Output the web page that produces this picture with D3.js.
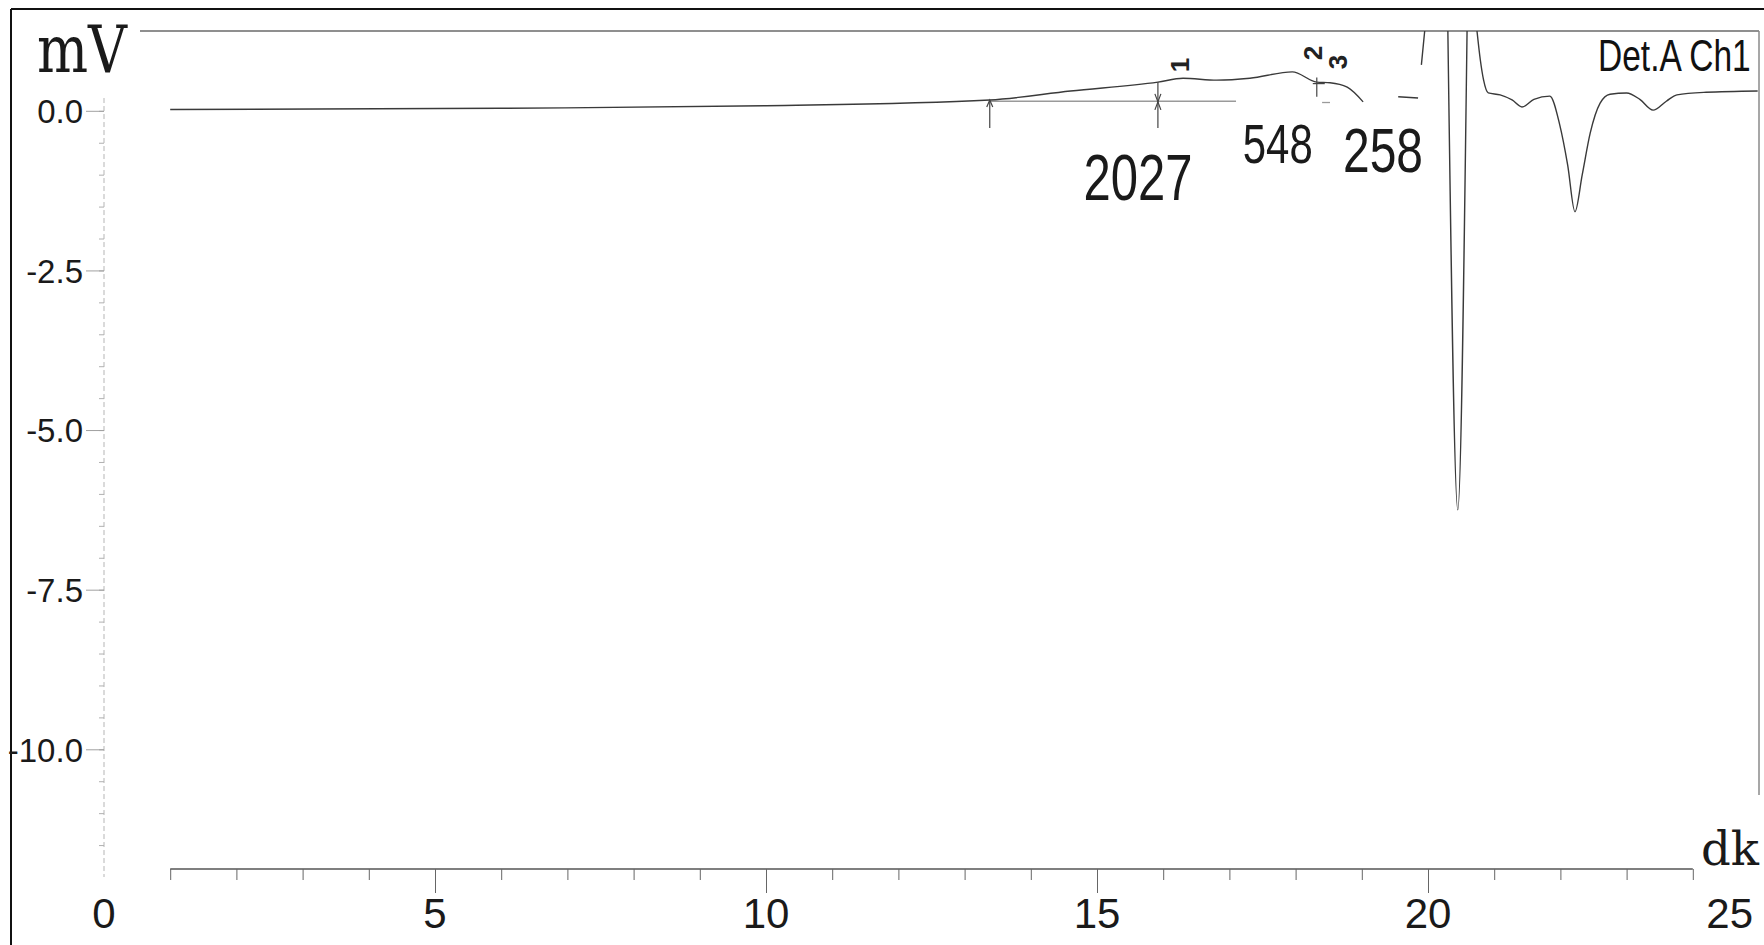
<!DOCTYPE html>
<html>
<head>
<meta charset="utf-8">
<script src="https://cdn.jsdelivr.net/npm/d3@7"></script>
<style>
  html, body { margin: 0; padding: 0; background: #fff; }
  svg { display: block; }
</style>
</head>
<body>
<svg id="chart" width="1764" height="945"></svg>
<script>
// ---------------- data ----------------
const traceX = [1.0, 6.0, 10.0, 13.38, 14.6, 15.92, 16.30, 16.81, 17.31, 17.95, 18.32, 18.52, 18.78, 19.02,
  19.05, 19.55, 19.85, 19.87, 19.90, 19.95, 19.97, 20.30, 20.45, 20.59, 20.61,
  20.74, 20.79, 20.84, 20.91, 21.09, 21.27, 21.42, 21.60, 21.84, 21.99, 22.11, 22.22, 22.33, 22.45,
  22.60, 22.75, 23.0, 23.2, 23.40, 23.6, 23.76, 24.2, 24.98];
const traceY = [0.02, 0.04, 0.08, 0.17, 0.31, 0.45, 0.51, 0.48, 0.51, 0.61, 0.45, 0.44, 0.37, 0.14,
  null, 0.22, 0.20, null, 0.72, 1.25, null, 1.25, -6.25, 1.25, null,
  1.25, 0.80, 0.48, 0.28, 0.25, 0.17, 0.06, 0.18, 0.23, -0.22, -0.85, -1.58, -1.0, -0.35,
  0.12, 0.26, 0.28, 0.18, 0.01, 0.15, 0.25, 0.29, 0.31];

const baselineStart = [13.38, 18.40];
const baselineEnd   = [17.10, 18.52];
const baselineLevel = [0.15, 0.13];

const peakNames  = ["1", "2", "3"];
const markerX    = [13.38, 15.92, 18.32];
const markerHigh = [0.17, 0.45, 0.52];
const markerLow  = [-0.27, -0.27, 0.22];

const areaLabels = ["2027", "548", "258"];

const yTickValues = [0, -2.5, -5, -7.5, -10];
const yTickLabels = ["0.0", "-2.5", "-5.0", "-7.5", "-10.0"];
const xTickValues = [0, 5, 10, 15, 20, 25];
const xTickLabels = ["0", "5", "10", "15", "20", "25"];

// ---------------- layout ----------------
const svg = d3.select("#chart");
const x = d3.scaleLinear().domain([0, 25]).range([104, 1759]);
const y = d3.scaleLinear().domain([-12, 1.25]).range([877, 31]);
const xAxisY = 869;
const traceColor = "#3a3a3a";

// outer scan frame (top + left)
svg.append("line").attr("x1", 11).attr("y1", 9).attr("x2", 1764).attr("y2", 9)
  .attr("stroke", "#111").attr("stroke-width", 2);
svg.append("line").attr("x1", 11).attr("y1", 9).attr("x2", 11).attr("y2", 945)
  .attr("stroke", "#111").attr("stroke-width", 2);

// plot frame (top + right)
svg.append("line").attr("x1", 140).attr("y1", y(1.25)).attr("x2", x(25)).attr("y2", y(1.25))
  .attr("stroke", "#6a6a6a").attr("stroke-width", 1.5);
svg.append("line").attr("x1", x(25)).attr("y1", y(1.25)).attr("x2", x(25)).attr("y2", 795)
  .attr("stroke", "#8a8a8a").attr("stroke-width", 1.5);

// y axis
svg.append("line").attr("x1", x(0)).attr("x2", x(0)).attr("y1", y(0.2)).attr("y2", y(-12))
  .attr("stroke", "#b5b5b5").attr("stroke-width", 1).attr("stroke-dasharray", "5 3");
const yMinor = svg.append("g").attr("transform", `translate(${x(0)},0)`)
  .call(d3.axisLeft(y).tickValues(d3.range(-23, 1).map(v => v / 2)).tickSize(5).tickFormat(""));
yMinor.select(".domain").remove();
yMinor.selectAll("line").attr("stroke", "#b0b0b0");
const yMajor = svg.append("g").attr("transform", `translate(${x(0)},0)`)
  .call(d3.axisLeft(y).tickValues(yTickValues).tickSize(18).tickPadding(3)
    .tickFormat((d, i) => yTickLabels[i]));
yMajor.select(".domain").remove();
yMajor.selectAll("line").attr("stroke", "#a0a0a0");
yMajor.selectAll("text").attr("font-family", "'Liberation Sans', Arial, sans-serif")
  .attr("font-size", 33).attr("fill", "#1a1a1a").attr("dy", "0.36em");

// x axis
svg.append("line").attr("x1", x(1)).attr("x2", x(24)).attr("y1", xAxisY).attr("y2", xAxisY)
  .attr("stroke", "#555").attr("stroke-width", 1.3);
const xMinor = svg.append("g").attr("transform", `translate(0,${xAxisY})`)
  .call(d3.axisBottom(x).tickValues(d3.range(1, 25)).tickSize(11).tickFormat(""));
xMinor.select(".domain").remove();
xMinor.selectAll("line").attr("stroke", "#666");
const xMajor = svg.append("g").attr("transform", `translate(0,${xAxisY})`)
  .call(d3.axisBottom(x).tickValues([5, 10, 15, 20]).tickSize(24).tickFormat(""));
xMajor.select(".domain").remove();
xMajor.selectAll("line").attr("stroke", "#666");
svg.append("g").selectAll("text").data(xTickValues).join("text")
  .attr("x", d => x(d))
  .attr("dx", (d, i) => i === xTickValues.length - 1 ? -6 : 0)
  .attr("y", 928)
  .attr("text-anchor", (d, i) => i === xTickValues.length - 1 ? "end" : "middle")
  .attr("font-family", "'Liberation Sans Narrow', 'Liberation Sans', Arial, sans-serif")
  .attr("font-size", 42).attr("fill", "#1a1a1a")
  .text((d, i) => xTickLabels[i]);

// axis titles
svg.append("text").attr("x", 37).attr("y", 72)
  .attr("font-family", "'DejaVu Serif', serif").attr("font-size", 66)
  .attr("textLength", 90).attr("lengthAdjust", "spacingAndGlyphs")
  .attr("fill", "#1a1a1a").text("mV");
svg.append("text").attr("x", 1701).attr("y", 865)
  .attr("font-family", "'DejaVu Serif', serif").attr("font-size", 47)
  .attr("textLength", 58).attr("lengthAdjust", "spacingAndGlyphs")
  .attr("fill", "#1a1a1a").text("dk");

// channel label (condensed horizontally like the original print)
svg.append("text").attr("transform", "translate(1598,71) scale(0.745,1)")
  .attr("font-family", "'Liberation Sans', Arial, sans-serif")
  .attr("font-size", 45)
  .attr("fill", "#111").text("Det.A Ch1");

// integration baselines
svg.append("g").selectAll("line").data(baselineStart).join("line")
  .attr("x1", d => x(d))
  .attr("x2", (d, i) => x(baselineEnd[i]))
  .attr("y1", (d, i) => y(baselineLevel[i]))
  .attr("y2", (d, i) => y(baselineLevel[i]))
  .attr("stroke", "#9a9a9a").attr("stroke-width", 1.3);

// trace
const pts = traceX.map((v, i) => [v, traceY[i]]);
const line = d3.line()
  .defined(d => d[1] !== null)
  .x(d => x(d[0])).y(d => y(d[1]))
  .curve(d3.curveMonotoneX);
svg.append("path").datum(pts).attr("d", line)
  .attr("fill", "none").attr("stroke", traceColor).attr("stroke-width", 1.4);

// peak markers
const mk = svg.append("g").attr("stroke", "#444").attr("stroke-width", 1.2).attr("fill", "none");
markerX.forEach((mx, i) => {
  const px = x(mx), top = y(markerHigh[i]), bot = y(markerLow[i]);
  mk.append("line").attr("x1", px).attr("x2", px).attr("y1", top).attr("y2", bot);
  if (i === 0) {
    mk.append("path").attr("d", `M${px - 3},${top + 7}L${px},${top}L${px + 3},${top + 7}`);
  } else if (i === 1) {
    const b = y(0.14);
    mk.append("path").attr("d", `M${px - 3},${b - 8}L${px},${b}L${px + 3},${b - 8}`);
    mk.append("path").attr("d", `M${px - 3},${b + 8}L${px},${b}L${px + 3},${b + 8}`);
  } else {
    mk.append("line").attr("x1", px - 4).attr("x2", px + 8).attr("y1", top + 6).attr("y2", top + 6);
  }
});

// peak numbers (rotated)
const nameMarker = [1, 2, 2];
const nameOffset = [22, -4, 21];
const nameY = [65, 53, 62];
svg.append("g").selectAll("text").data(peakNames).join("text")
  .attr("transform", (d, i) => `translate(${x(markerX[nameMarker[i]]) + nameOffset[i]},${nameY[i]}) rotate(-90)`)
  .attr("text-anchor", "middle").attr("dy", "0.35em")
  .attr("font-family", "'Liberation Sans', Arial, sans-serif")
  .attr("font-size", 26).attr("font-weight", "bold").attr("fill", "#222")
  .text(d => d);

// area labels
const areaCX = [15.62, 17.73, 19.32];
const areaBase = [200, 163, 172];
const areaSize = [65, 56, 63];
const areaW = [109, 70, 80];
svg.append("g").selectAll("text").data(areaLabels).join("text")
  .attr("x", (d, i) => x(areaCX[i]) - areaW[i] / 2)
  .attr("y", (d, i) => areaBase[i])
  .attr("font-family", "'Liberation Sans Narrow', 'Liberation Sans', Arial, sans-serif")
  .attr("font-size", (d, i) => areaSize[i])
  .attr("textLength", (d, i) => areaW[i]).attr("lengthAdjust", "spacingAndGlyphs")
  .attr("fill", "#1a1a1a")
  .text(d => d);
</script>
</body>
</html>
